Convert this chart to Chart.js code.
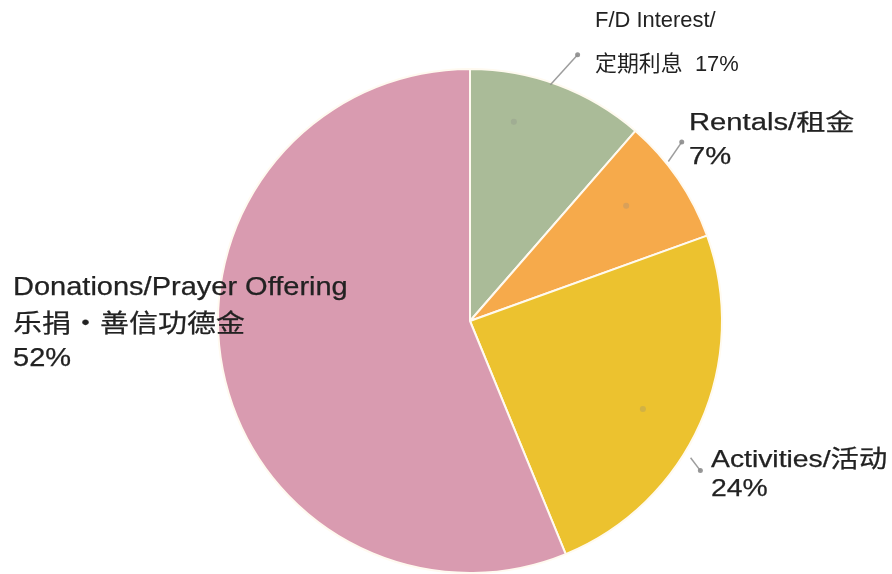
<!DOCTYPE html>
<html>
<head>
<meta charset="utf-8">
<script src="https://cdn.jsdelivr.net/npm/chart.js@4"></script>
<style>
  html, body { margin: 0; padding: 0; background: #fff; }
  canvas { display: block; }
</style>
</head>
<body>
<canvas id="pieChart" width="892" height="574"></canvas>
<script>
const categories = ['F/D Interest', 'Rentals', 'Activities', 'Donations/Prayer Offering'];
const sliceValues = [11.4, 8.1, 24.3, 56.2];
const sliceColors = ['#aabb98', '#f6aa4b', '#ecc22f', '#d99bb0'];

// Label text as printed on the chart
const labelLines = [
    ['F/D Interest/', '定期利息  17%'],
    ['Rentals/租金', '7%'],
    ['Activities/活动', '24%'],
    ['Donations/Prayer Offering', '乐捐・善信功德金', '52%']
];

// Label placement / style (layout only)
const labelStyle = [
    { x: 595, y: [21, 65], size: 21.5, stretch: 1.02, color: '#222', weight: 0 },
    { x: 689, y: [124, 158], size: 23, stretch: 1.27, color: '#222', weight: 0.25 },
    { x: 711, y: [460, 489], size: 24, stretch: 1.18, color: '#222', weight: 0.25 },
    { x: 13, y: [288, 325, 359], size: 25, stretch: 1.16, color: '#222', weight: 0.25 }
];

// Leader lines: [deg from 12 o'clock, radius factor] start -> end
const leaders = [
    { from: [18.8, 0.99], to: [22, 1.14], inner: [12.4, 0.81] },
    { from: [51.2, 1.01], to: [49.8, 1.10], inner: [53.6, 0.77] },
    { from: [121.8, 1.03], to: [123, 1.09], inner: [117, 0.77] },
    null
];

function polar(cx, cy, r, deg, f) {
    const a = (deg - 90) * Math.PI / 180;
    return { x: cx + Math.cos(a) * r * f, y: cy + Math.sin(a) * r * f };
}

const labelPlugin = {
    id: 'pieLabels',
    afterDatasetsDraw(chart) {
        const ctx = chart.ctx;
        const arc = chart.getDatasetMeta(0).data[0];
        const { x: cx, y: cy, outerRadius: r } = arc.getProps(['x', 'y', 'outerRadius'], true);

        ctx.save();
        leaders.forEach(l => {
            if (!l) return;
            const p1 = polar(cx, cy, r, l.from[0], l.from[1]);
            const p2 = polar(cx, cy, r, l.to[0], l.to[1]);
            ctx.strokeStyle = 'rgba(140,140,140,0.85)';
            ctx.lineWidth = 1.5;
            ctx.beginPath();
            ctx.moveTo(p1.x, p1.y);
            ctx.lineTo(p2.x, p2.y);
            ctx.stroke();
            ctx.fillStyle = 'rgba(140,140,140,0.9)';
            ctx.beginPath();
            ctx.arc(p2.x, p2.y, 2.5, 0, Math.PI * 2);
            ctx.fill();
            const pi = polar(cx, cy, r, l.inner[0], l.inner[1]);
            ctx.fillStyle = 'rgba(130,130,130,0.25)';
            ctx.beginPath();
            ctx.arc(pi.x, pi.y, 3, 0, Math.PI * 2);
            ctx.fill();
        });

        labelLines.forEach((lines, i) => {
            const s = labelStyle[i];
            ctx.font = s.size + 'px "Liberation Sans", Arial, "Noto Sans CJK SC", sans-serif';
            ctx.fillStyle = s.color;
            ctx.strokeStyle = s.color;
            ctx.textBaseline = 'middle';
            ctx.textAlign = 'left';
            lines.forEach((txt, j) => {
                ctx.save();
                ctx.translate(s.x, s.y[j]);
                ctx.scale(s.stretch, 1);
                ctx.fillText(txt, 0, 0);
                if (s.weight) {
                    ctx.lineWidth = s.weight;
                    ctx.strokeText(txt, 0, 0);
                }
                ctx.restore();
            });
        });
        ctx.restore();
    }
};

new Chart(document.getElementById('pieChart'), {
    type: 'pie',
    data: {
        labels: categories,
        datasets: [{
            data: sliceValues,
            backgroundColor: sliceColors,
            borderColor: '#fffaf0',
            borderWidth: 2
        }]
    },
    options: {
        responsive: false,
        animation: false,
        layout: { padding: { top: 68, left: 217, right: 169, bottom: 0 } },
        plugins: {
            legend: { display: false },
            tooltip: { enabled: false }
        }
    },
    plugins: [labelPlugin]
});
</script>
</body>
</html>
